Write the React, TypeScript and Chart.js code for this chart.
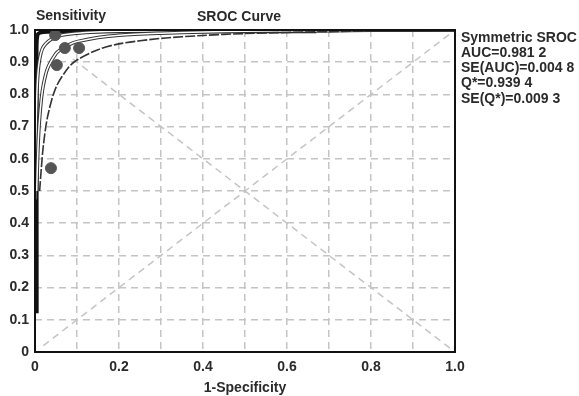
import React, { useEffect, useRef } from "react";
import { Chart, registerables } from "chart.js";
Chart.register(...registerables);

// Study points (1-Specificity, Sensitivity)
const studyFpr = [0.048, 0.071, 0.105, 0.052, 0.038];
const studySens = [0.984, 0.944, 0.944, 0.891, 0.571];

// SROC curve
const srocFpr = [0.004, 0.005, 0.007, 0.01, 0.015, 0.02, 0.03, 0.05, 0.0606, 0.08, 0.1, 0.15, 0.2, 0.3, 0.4, 0.5, 0.6, 0.8, 1.0];
const srocSens = [0.5, 0.547, 0.63, 0.708, 0.785, 0.83, 0.881, 0.927, 0.939, 0.954, 0.964, 0.977, 0.984, 0.99, 0.994, 0.996, 0.997, 0.999, 1.0];

// Lower bound curve
const lowFpr = [0.011, 0.015, 0.02, 0.03, 0.05, 0.08, 0.1, 0.15, 0.2, 0.3, 0.4, 0.5, 0.7, 1.0];
const lowSens = [0.5, 0.57, 0.642, 0.731, 0.822, 0.884, 0.907, 0.939, 0.957, 0.974, 0.983, 0.989, 0.995, 1.0];

// Upper bound curve
const upFpr = [0.001, 0.002, 0.005, 0.01, 0.02, 0.05, 0.1, 0.2, 0.4, 0.6, 1.0];
const upSens = [0.474, 0.643, 0.819, 0.901, 0.948, 0.979, 0.99, 0.996, 0.998, 0.999, 1.0];

// Thick edge band of the upper bound along axes
const edgeFpr = [0.004, 0.004, 0.006, 0.02, 0.2, 0.67];
const edgeSens = [0.12, 0.9, 0.985, 0.994, 0.996, 0.996];

// Reference lines
const diagFpr = [0.02, 1.0];
const diagSens = [0.02, 1.0];
const antiFpr = [0.09, 1.0];
const antiSens = [0.91, 0.0];

const xTickLabels = ["0", "0.2", "0.4", "0.6", "0.8", "1.0"];
const yTickLabels = ["0", "0.1", "0.2", "0.3", "0.4", "0.5", "0.6", "0.7", "0.8", "0.9", "1.0"];

const title = "SROC Curve";
const yTitle = "Sensitivity";
const xTitle = "1-Specificity";
const statLines = ["Symmetric SROC", "AUC=0.981 2", "SE(AUC)=0.004 8", "Q*=0.939 4", "SE(Q*)=0.009 3"];

const FONT = "'Liberation Sans', Arial, sans-serif";
const TEXT = "#2a2a2a";

function pts(xs: number[], ys: number[]) {
  return xs.map((x, i) => ({ x, y: ys[i] }));
}

export default function App() {
  const ref = useRef<HTMLCanvasElement | null>(null);
  useEffect(() => {
    if (!ref.current) return;
    const textPlugin = {
      id: "texts",
      afterDraw(chart: any) {
        const { ctx, chartArea } = chart;
        ctx.save();
        ctx.strokeStyle = "#111";
        ctx.lineWidth = 2;
        ctx.strokeRect(chartArea.left, chartArea.top, chartArea.right - chartArea.left, chartArea.bottom - chartArea.top);
        ctx.fillStyle = TEXT;
        ctx.font = `bold 14px ${FONT}`;
        ctx.textBaseline = "middle";
        ctx.textAlign = "left";
        ctx.fillText(yTitle, chartArea.left + 1, chartArea.top - 14);
        ctx.textAlign = "center";
        ctx.fillText(title, (chartArea.left + chartArea.right) / 2 - 6, chartArea.top - 13);
        ctx.fillText(xTitle, (chartArea.left + chartArea.right) / 2, chartArea.bottom + 36);
        ctx.textAlign = "left";
        statLines.forEach((s, i) => {
          ctx.fillText(s, chartArea.right + 6, chartArea.top + 8 + i * 15.2);
        });
        ctx.restore();
      },
    };
    const curve = (data: any, color: string, width: number, dash: number[] = []) => ({
      type: "line",
      data,
      borderColor: color,
      borderWidth: width,
      borderDash: dash,
      pointRadius: 0,
      fill: false,
      tension: 0.3,
    });
    const chart = new Chart(ref.current, {
      type: "scatter",
      data: {
        datasets: [
          {
            type: "scatter",
            data: pts(studyFpr, studySens),
            backgroundColor: "#555",
            borderColor: "#555",
            pointRadius: 5.5,
          },
          curve(pts(lowFpr, lowSens), "#333", 1.6, [10, 2]),
          curve(pts(srocFpr, srocSens), "#fff", 1.5),
          curve(pts(srocFpr, srocSens), "#333", 3.5),
          curve(pts(upFpr, upSens), "#fff", 1.5),
          curve(pts(upFpr, upSens), "#333", 3.5),
          curve(pts(edgeFpr, edgeSens), "#111", 4),
          curve(pts(antiFpr, antiSens), "#c4c4c4", 1.5, [7, 5]),
          curve(pts(diagFpr, diagSens), "#c4c4c4", 1.5, [7, 5]),
        ] as any,
      },
      options: {
        animation: false,
        responsive: false,
        maintainAspectRatio: false,
        layout: { padding: { left: 0, right: 124, top: 30, bottom: 0 } },
        plugins: { legend: { display: false }, tooltip: { enabled: false } },
        scales: {
          x: {
            type: "linear",
            min: 0,
            max: 1,
            afterFit: (s: any) => { s.height = 44; },
            afterBuildTicks: (s: any) => {
              s.ticks = yTickLabels.map((_, i) => ({ value: i / 10 }));
            },
            grid: { color: "#c4c4c4", lineWidth: 1.5, drawTicks: false },
            border: { display: false, dash: [7, 5] },
            ticks: {
              color: TEXT,
              font: { family: FONT, size: 14, weight: "bold" },
              padding: 7,
              autoSkip: false,
              maxRotation: 0,
              callback: (_v: any, i: number) => (i % 2 === 0 ? xTickLabels[i / 2] : ""),
            },
          },
          y: {
            type: "linear",
            min: 0,
            max: 1,
            afterFit: (s: any) => { s.width = 35; },
            afterBuildTicks: (s: any) => {
              s.ticks = yTickLabels.map((_, i) => ({ value: i / 10 }));
            },
            grid: { color: "#c4c4c4", lineWidth: 1.5, drawTicks: false },
            border: { display: false, dash: [7, 5] },
            ticks: {
              color: TEXT,
              font: { family: FONT, size: 14, weight: "bold" },
              padding: 6,
              autoSkip: false,
              callback: (_v: any, i: number) => yTickLabels[i],
            },
          },
        },
      },
      plugins: [textPlugin],
    } as any);
    return () => chart.destroy();
  }, []);
  return (
    <div style={{ position: "absolute", left: 0, top: 0, width: 579, height: 396, background: "#fff" }}>
      <canvas ref={ref} width={579} height={396} style={{ width: 579, height: 396 }} />
    </div>
  );
}
